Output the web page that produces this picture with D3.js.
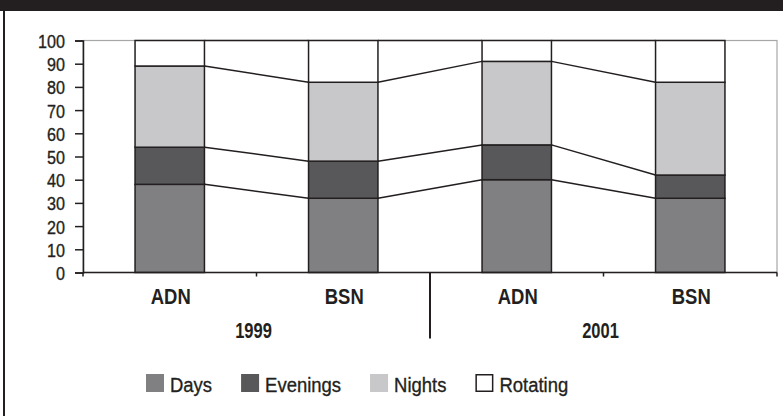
<!DOCTYPE html>
<html>
<head>
<meta charset="utf-8">
<script src="https://cdn.jsdelivr.net/npm/d3@7"></script>
<style>
  html, body { margin: 0; padding: 0; background: #fff; }
  svg { display: block; }
  text { font-family: "Liberation Sans", Arial, sans-serif; fill: #231f20; }
  text.reg { stroke: #231f20; stroke-width: 0.35px; }
</style>
</head>
<body>
<svg id="chart" width="783" height="416"></svg>
<script>
// Shift distribution (%) by nursing program and survey year
const categories = ["ADN", "BSN", "ADN", "BSN"];
const years = ["1999", "2001"];
const seriesNames = ["Days", "Evenings", "Nights", "Rotating"];
const days     = [38, 32, 40, 32];
const evenings = [16, 16, 15, 10];
const nights   = [35, 34, 36, 40];
const rotating = [11, 18,  9, 18];
const yTickValues = [0, 10, 20, 30, 40, 50, 60, 70, 80, 90, 100];

const colors = { Days: "#808083", Evenings: "#58585a", Nights: "#c8c8ca", Rotating: "#ffffff" };
const ink = "#231f20";

const rows = categories.map((c, i) => ({
  idx: i, cat: c,
  Days: days[i], Evenings: evenings[i], Nights: nights[i], Rotating: rotating[i]
}));
const stacked = d3.stack().keys(seriesNames)(rows);

const svg = d3.select("#chart");

// condensed-looking text: horizontally squeezed glyphs
function label(parent, str, x, y, size, weight, sx, anchor) {
  return parent.append("text")
    .attr("class", weight === "bold" ? null : "reg")
    .attr("transform", `translate(${x},${y}) scale(${sx},1)`)
    .attr("text-anchor", anchor)
    .style("font-size", size + "px")
    .style("font-weight", weight)
    .text(str);
}

// frame: dark header band and left rule
svg.append("rect").attr("x", 0).attr("y", 0).attr("width", 783).attr("height", 11).attr("fill", ink);
svg.append("rect").attr("x", 3).attr("y", 0).attr("width", 2).attr("height", 416).attr("fill", ink);

const plot = { left: 83, right: 777, top: 40.5, bottom: 272.5 };

const x = d3.scaleBand()
  .domain(rows.map(d => d.idx))
  .range([plot.left, plot.right])
  .paddingInner(0.6)
  .paddingOuter(0.3);
const y = d3.scaleLinear().domain([0, 100]).range([plot.bottom, plot.top]);
const bw = x.bandwidth();
const step = x.step();

// plot area border
svg.append("rect")
  .attr("x", plot.left).attr("y", plot.top)
  .attr("width", plot.right - plot.left).attr("height", plot.bottom - plot.top)
  .attr("fill", "none").attr("stroke", "#a7a7a9").attr("stroke-width", 1.2);

// series lines joining the stacked boundaries of neighbouring bars
const seriesLines = svg.append("g");
stacked.forEach(layer => {
  for (let i = 0; i < layer.length - 1; i++) {
    seriesLines.append("line")
      .attr("x1", x(i) + bw).attr("y1", y(layer[i][1]))
      .attr("x2", x(i + 1)).attr("y2", y(layer[i + 1][1]))
      .attr("stroke", ink).attr("stroke-width", 1.5);
  }
});

// stacked bars
svg.append("g").selectAll("g")
  .data(stacked)
  .join("g")
  .attr("fill", d => colors[d.key])
  .selectAll("rect")
  .data(d => d)
  .join("rect")
  .attr("x", (d, i) => x(i))
  .attr("y", d => y(d[1]))
  .attr("width", bw)
  .attr("height", d => y(d[0]) - y(d[1]))
  .attr("stroke", ink)
  .attr("stroke-width", 1.5);

// y axis
const yAxis = svg.append("g")
  .attr("transform", `translate(${plot.left},0)`)
  .call(d3.axisLeft(y).tickValues(yTickValues).tickSize(8).tickPadding(9));
yAxis.select(".domain").attr("stroke", ink).attr("stroke-width", 1.5);
yAxis.selectAll(".tick line").attr("stroke", ink).attr("stroke-width", 1.5);
yAxis.selectAll(".tick text")
  .attr("class", "reg")
  .attr("font-family", null)
  .attr("fill", null)
  .attr("x", null)
  .attr("dy", null)
  .attr("transform", "translate(-18,7) scale(0.85,1)")
  .style("font-size", "19px");

// x axis baseline and ticks at category boundaries
svg.append("line")
  .attr("x1", plot.left).attr("x2", plot.right)
  .attr("y1", plot.bottom).attr("y2", plot.bottom)
  .attr("stroke", ink).attr("stroke-width", 1.5);
const boundaries = d3.range(categories.length + 1).map(i => plot.left + i * step);
svg.append("g").selectAll("line")
  .data(boundaries)
  .join("line")
  .attr("x1", d => d).attr("x2", d => d)
  .attr("y1", plot.bottom)
  .attr("y2", (d, i) => i === 2 ? 338.5 : plot.bottom + 4)
  .attr("stroke", ink)
  .attr("stroke-width", (d, i) => i === 2 ? 2 : 1.5);

// category labels
const catG = svg.append("g");
rows.forEach(d => label(catG, d.cat, x(d.idx) + bw / 2 + 1, 304, 22, "bold", 0.84, "middle"));

// year group labels
const yearG = svg.append("g");
years.forEach((yr, i) => label(yearG, yr, plot.left + (i * 2 + 1) * step - 3, 337.5, 22, "bold", 0.75, "middle"));

// legend
const legend = svg.append("g");
let lx = 146;
seriesNames.forEach(name => {
  const open = name === "Rotating";
  legend.append("rect")
    .attr("x", lx + (open ? 0.75 : 0)).attr("y", 374 + (open ? 0.75 : 0))
    .attr("width", open ? 16.5 : 18).attr("height", open ? 16.5 : 18)
    .attr("fill", colors[name])
    .attr("stroke", open ? ink : "none")
    .attr("stroke-width", 1.5);
  const t = label(legend, name, lx + 24, 391.5, 21, "normal", 0.88, "start");
  lx += 24 + t.node().getComputedTextLength() * 0.88 + 29;
});
</script>
</body>
</html>
